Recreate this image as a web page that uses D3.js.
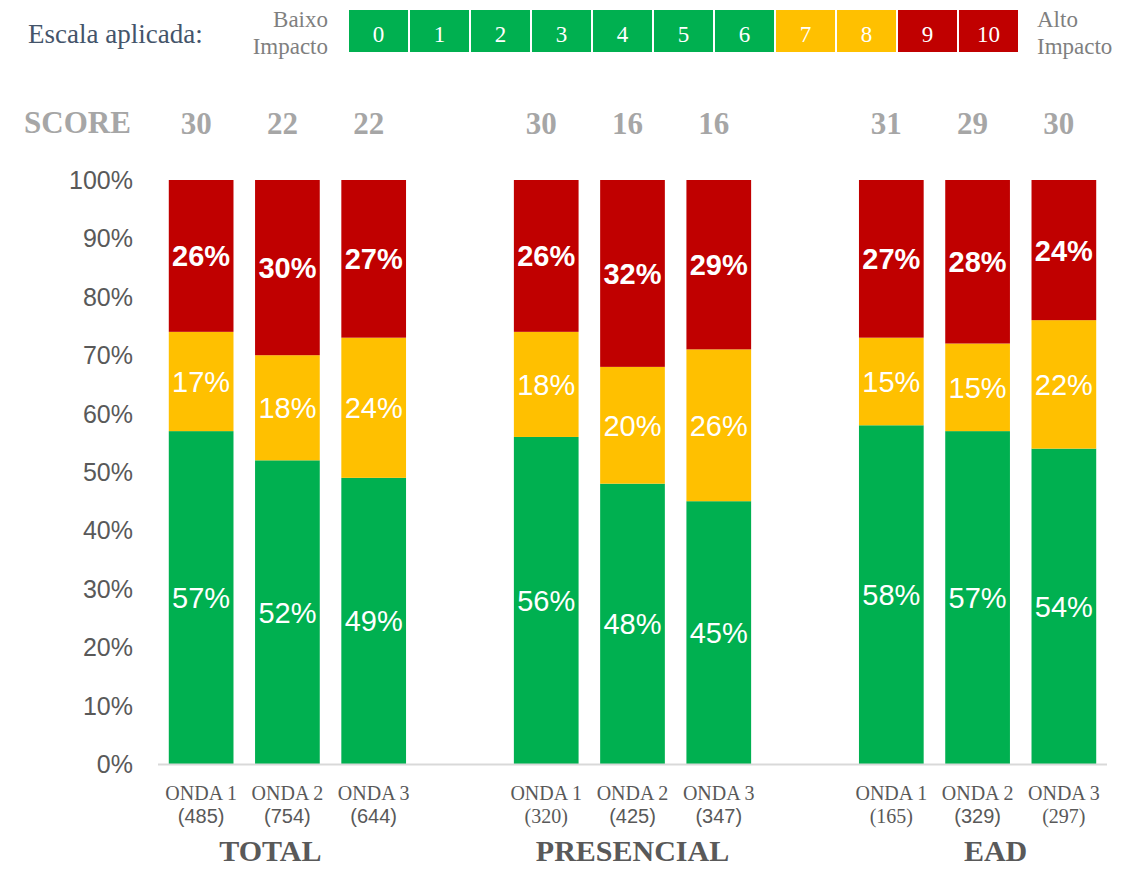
<!DOCTYPE html>
<html>
<head>
<meta charset="utf-8">
<script src="https://cdn.jsdelivr.net/npm/d3@7"></script>
<style>
body{margin:0;background:#fff;}
svg{display:block;}
</style>
</head>
<body>
<script>
// data
var groups=["TOTAL","PRESENCIAL","EAD"];
var ondas=["ONDA 1","ONDA 2","ONDA 3"];
var bases=[485,754,644,320,425,347,165,329,297];
var scores=[30,22,22,30,16,16,31,29,30];
var baixo=[57,52,49,56,48,45,58,57,54];   //green, 0-6
var medio=[17,18,24,18,20,26,15,15,22];   //yellow, 7-8
var alto=[26,30,27,26,32,29,27,28,24];    //red, 9-10
var escala=[0,1,2,3,4,5,6,7,8,9,10];
var yTicks=[0,10,20,30,40,50,60,70,80,90,100];
var serifBase=[false,false,false,true,false,false,true,false,true]; //some of the (n) are in serif in the original

var VERDE="#00b050",AMARELO="#ffc000",VERMELHO="#c00000";
var W=1122,H=869;

var svg=d3.select("body").append("svg").attr("width",W).attr("height",H);

// slots: 3 bars per group, an empty slot between groups
var slots=[];
groups.forEach(function(g,gi){
	if(gi>0) slots.push("gap"+gi);
	ondas.forEach(function(o){ slots.push(g+"|"+o); });
});

var x=d3.scaleBand().domain(slots).range([158,1107]).paddingInner(0.25).paddingOuter(0.125);
var y=d3.scaleLinear().domain([0,100]).range([764,180]);

var bars=[];
groups.forEach(function(g,gi){
	ondas.forEach(function(o,oi){
		var i=gi*3+oi;
		bars.push({key:g+"|"+o,onda:o,group:g,base:bases[i],score:scores[i],serif:serifBase[i],
			segs:[{v:baixo[i],c:VERDE,bold:false},{v:medio[i],c:AMARELO,bold:false},{v:alto[i],c:VERMELHO,bold:true}]});
	});
});
bars.forEach(function(b){
	var acc=0;
	b.segs.forEach(function(s){ s.y0=acc; acc+=s.v; s.y1=acc; });
});

var SERIF="'Liberation Serif','Times New Roman',serif";
var SANS="'Liberation Sans',Arial,sans-serif";

// legend
svg.append("text").attr("x",28).attr("y",43)
	.style("font-family",SERIF).style("font-size","27px")
	.style("fill","#44546a").text("Escala aplicada:");

function twoLines(xp,anchor,l1,l2){
	var t=svg.append("text").attr("x",xp).attr("y",27).attr("text-anchor",anchor)
		.style("font-family",SERIF).style("font-size","23px").style("fill","#7f7f7f");
	t.append("tspan").attr("x",xp).attr("dy",0).text(l1);
	t.append("tspan").attr("x",xp).attr("dy",27).text(l2);
}
twoLines(328,"end","Baixo","Impacto");
twoLines(1037,"start","Alto","Impacto");

var lx=d3.scaleBand().domain(escala).range([348,1019]);
var cor=function(v){ return v<=6?VERDE:(v<=8?AMARELO:VERMELHO); };
var cell=svg.selectAll(".esc").data(escala).enter().append("g").attr("class","esc");
cell.append("rect").attr("x",function(d){return lx(d)+1;}).attr("y",10)
	.attr("width",lx.bandwidth()-2).attr("height",42).attr("fill",cor);
cell.append("text").attr("x",function(d){return lx(d)+lx.bandwidth()/2;}).attr("y",42)
	.attr("text-anchor","middle")
	.style("font-family",SERIF).style("font-size","23px").style("fill","#fff")
	.text(function(d){return d;});

// score row
svg.append("text").attr("x",24).attr("y",133)
	.style("font-family",SERIF).style("font-size","31px").style("font-weight","bold")
	.style("fill","#a6a6a6").text("SCORE");
svg.selectAll(".score").data(bars).enter().append("text").attr("class","score")
	.attr("x",function(d){return x(d.key)+x.bandwidth()/2-5;}).attr("y",134)
	.attr("text-anchor","middle")
	.style("font-family",SERIF).style("font-size","31px").style("font-weight","bold")
	.style("fill","#a6a6a6").text(function(d){return d.score;});

// y axis labels
svg.selectAll(".ytick").data(yTicks).enter().append("text").attr("class","ytick")
	.attr("x",133).attr("y",function(d){return y(d);}).attr("dy","0.36em").attr("text-anchor","end")
	.style("font-family",SANS).style("font-size","25px").style("fill","#595959")
	.text(function(d){return d+"%";});

// bars
var bar=svg.selectAll(".bar").data(bars).enter().append("g").attr("class","bar");
bar.selectAll("rect").data(function(d){return d.segs.map(function(s){return {s:s,key:d.key};});}).enter().append("rect")
	.attr("x",function(d){return x(d.key);}).attr("width",x.bandwidth())
	.attr("y",function(d){return y(d.s.y1);}).attr("height",function(d){return y(d.s.y0)-y(d.s.y1);})
	.attr("fill",function(d){return d.s.c;});
bar.selectAll("text").data(function(d){return d.segs.map(function(s){return {s:s,key:d.key};});}).enter().append("text")
	.attr("x",function(d){return x(d.key)+x.bandwidth()/2;})
	.attr("y",function(d){return y((d.s.y0+d.s.y1)/2);}).attr("dy","0.36em")
	.attr("text-anchor","middle")
	.style("font-family",SANS).style("font-size","29px")
	.style("font-weight",function(d){return d.s.bold?"bold":"normal";})
	.style("fill","#fff").text(function(d){return d.s.v+"%";});

// baseline
svg.append("line").attr("x1",158).attr("x2",1107).attr("y1",y(0)+0.5).attr("y2",y(0)+0.5)
	.attr("stroke","#d9d9d9").attr("stroke-width",2);

// x labels
var xl=svg.selectAll(".xl").data(bars).enter().append("g").attr("class","xl");
xl.append("text").attr("x",function(d){return x(d.key)+x.bandwidth()/2;}).attr("y",800)
	.attr("text-anchor","middle")
	.style("font-family",SERIF).style("font-size","20px").style("fill","#595959")
	.text(function(d){return d.onda;});
xl.append("text").attr("x",function(d){return x(d.key)+x.bandwidth()/2;}).attr("y",823)
	.attr("text-anchor","middle")
	.style("font-family",function(d){return d.serif?SERIF:SANS;})
	.style("font-size","20px").style("fill","#595959")
	.text(function(d){return "("+d.base+")";});

// group labels (not exactly centred in the original)
var grpShift=[-17,0,18];
svg.selectAll(".grp").data(groups).enter().append("text").attr("class","grp")
	.attr("x",function(g,i){return x(g+"|ONDA 2")+x.bandwidth()/2+grpShift[i];}).attr("y",861)
	.attr("text-anchor","middle")
	.style("font-family",SERIF).style("font-size","30px").style("font-weight","bold")
	.style("fill","#595959").text(function(g){return g;});
</script>
</body>
</html>
